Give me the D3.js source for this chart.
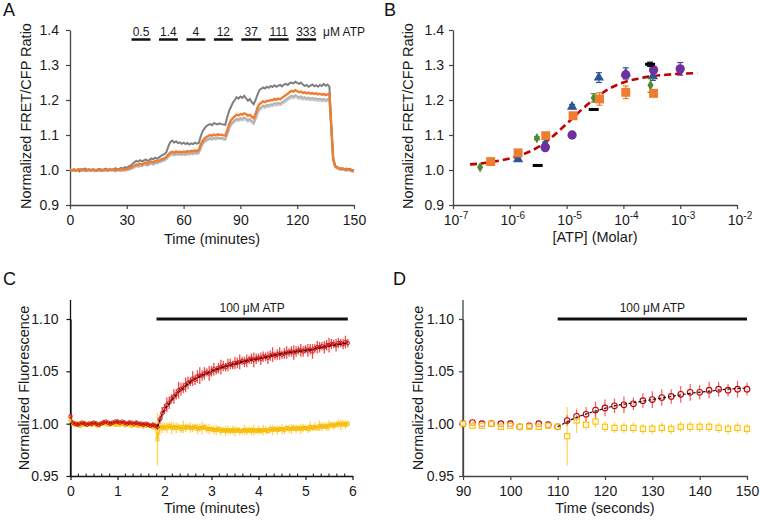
<!DOCTYPE html>
<html><head><meta charset="utf-8">
<script src="https://cdn.jsdelivr.net/npm/d3@7"></script>
<style>
body{margin:0;background:#fff;}
svg{display:block;font-family:"Liberation Sans",Arial,sans-serif;}
</style></head>
<body><svg id="c" width="760" height="521"></svg>
<script>
// ---------- Panel A data (1-minute samples) ----------
const aMinutes = d3.range(0, 151);
const aDark = [1.000,0.998,1.002,0.999,1.001,0.997,1.003,1.000,1.004,0.999,
1.001,0.998,1.002,1.000,0.999,1.003,1.001,0.998,1.002,1.004,
1.000,1.003,0.999,1.002,1.005,1.001,1.003,1.006,1.004,1.008,
1.006,1.010,1.012,1.018,1.022,1.026,1.024,1.028,1.025,1.027,
1.030,1.026,1.029,1.033,1.031,1.035,1.032,1.036,1.040,1.043,
1.046,1.052,1.068,1.080,1.084,1.078,1.082,1.077,1.079,1.075,
1.078,1.074,1.077,1.073,1.076,1.074,1.078,1.075,1.077,1.095,
1.110,1.118,1.125,1.129,1.131,1.128,1.134,1.132,1.130,1.133,
1.131,1.130,1.129,1.150,1.168,1.180,1.192,1.200,1.208,1.204,
1.210,1.206,1.212,1.205,1.198,1.203,1.194,1.188,1.200,1.215,
1.228,1.232,1.236,1.233,1.238,1.235,1.240,1.237,1.242,1.238,
1.241,1.243,1.239,1.244,1.246,1.243,1.248,1.250,1.247,1.252,
1.249,1.246,1.250,1.244,1.240,1.243,1.238,1.241,1.244,1.239,
1.242,1.238,1.243,1.240,1.246,1.241,1.244,1.238,1.130,1.035,
1.012,1.008,1.006,1.003,1.005,1.002,1.004,1.001,1.003,0.999,
1.000];
const aOrange = [1.000,0.999,1.001,0.998,1.000,1.002,0.999,1.001,0.998,1.000,
1.002,0.999,1.000,1.001,0.998,1.000,1.002,0.999,1.001,1.000,
0.999,1.001,1.000,1.002,0.999,1.001,1.000,1.003,1.001,1.002,
1.003,1.005,1.007,1.010,1.013,1.016,1.015,1.018,1.016,1.019,
1.021,1.018,1.022,1.024,1.022,1.026,1.025,1.027,1.030,1.032,
1.034,1.038,1.045,1.050,1.052,1.049,1.053,1.051,1.052,1.050,
1.053,1.051,1.054,1.052,1.055,1.053,1.056,1.054,1.057,1.072,
1.083,1.090,1.094,1.097,1.100,1.098,1.101,1.099,1.102,1.100,
1.101,1.099,1.098,1.112,1.130,1.142,1.148,1.153,1.158,1.156,
1.160,1.158,1.162,1.160,1.155,1.158,1.152,1.148,1.160,1.178,
1.188,1.192,1.196,1.194,1.198,1.197,1.200,1.199,1.203,1.201,
1.204,1.202,1.206,1.210,1.214,1.218,1.222,1.226,1.224,1.228,
1.225,1.222,1.224,1.220,1.222,1.219,1.221,1.218,1.220,1.217,
1.219,1.216,1.218,1.215,1.217,1.214,1.216,1.218,1.125,1.032,
1.012,1.008,1.005,1.003,1.004,1.002,1.001,1.003,1.000,0.998,
0.997];
const aGray1 = [0.998,1.000,0.997,1.001,0.999,0.996,1.000,0.998,1.001,0.997,
0.999,1.001,0.998,0.996,1.000,0.999,0.997,1.001,0.998,0.999,
0.997,0.999,1.001,0.998,0.996,0.999,1.000,0.997,0.999,0.998,
0.999,1.001,1.003,1.006,1.009,1.012,1.010,1.013,1.012,1.015,
1.016,1.014,1.018,1.019,1.017,1.021,1.020,1.023,1.025,1.027,
1.029,1.033,1.040,1.044,1.046,1.043,1.047,1.045,1.046,1.044,
1.047,1.045,1.048,1.046,1.049,1.047,1.050,1.048,1.050,1.064,
1.076,1.082,1.086,1.089,1.091,1.089,1.092,1.090,1.093,1.091,
1.092,1.090,1.089,1.103,1.120,1.131,1.137,1.142,1.146,1.144,
1.148,1.146,1.150,1.147,1.143,1.146,1.140,1.136,1.148,1.166,
1.176,1.180,1.184,1.182,1.186,1.185,1.188,1.187,1.191,1.189,
1.192,1.190,1.194,1.197,1.201,1.205,1.209,1.212,1.210,1.214,
1.211,1.208,1.210,1.206,1.208,1.205,1.207,1.204,1.206,1.203,
1.205,1.202,1.204,1.201,1.203,1.200,1.202,1.205,1.120,1.030,
1.010,1.006,1.004,1.001,1.002,1.000,0.999,1.001,0.998,0.997,
0.996];
const aGray2 = [1.002,0.999,1.001,0.998,1.003,1.000,0.998,1.002,0.999,1.001,
0.998,1.000,1.003,0.999,1.001,0.998,1.000,1.002,0.999,1.001,
1.000,0.998,1.002,1.000,0.999,1.002,0.998,1.000,1.003,1.000,
1.002,1.000,1.002,1.004,1.007,1.010,1.009,1.011,1.010,1.013,
1.014,1.012,1.016,1.017,1.015,1.019,1.018,1.021,1.023,1.025,
1.027,1.031,1.037,1.041,1.044,1.041,1.044,1.042,1.044,1.042,
1.044,1.042,1.045,1.043,1.046,1.044,1.047,1.045,1.047,1.060,
1.072,1.079,1.083,1.086,1.088,1.086,1.089,1.087,1.090,1.088,
1.089,1.087,1.086,1.099,1.116,1.127,1.133,1.138,1.142,1.140,
1.144,1.141,1.145,1.142,1.138,1.141,1.135,1.131,1.143,1.160,
1.170,1.175,1.179,1.177,1.181,1.180,1.183,1.182,1.186,1.184,
1.187,1.185,1.189,1.192,1.196,1.200,1.204,1.207,1.205,1.209,
1.206,1.203,1.205,1.201,1.203,1.200,1.202,1.199,1.201,1.198,
1.200,1.197,1.199,1.196,1.198,1.195,1.197,1.200,1.115,1.028,
1.008,1.004,1.002,1.000,1.001,0.999,0.998,1.000,0.997,0.996,
0.995];
const aDoseLabels = ["0.5","1.4","4","12","37","111","333"];
const aDoseStart = [32.5, 47, 61.5, 76, 90.5, 105, 119.5];
const aDoseEnd   = [42.5, 57, 71.5, 86, 101, 115.5, 130];
const aXTicks = [0,30,60,90,120,150];
const abYTicks = [0.9,1.0,1.1,1.2,1.3,1.4];

// ---------- Panel B data ----------
const bXTicks = [1e-7,1e-6,1e-5,1e-4,1e-3,1e-2];
const bXExp = ["-7","-6","-5","-4","-3","-2"];
const bGreenConc = [3.0e-7, 3.0e-6, 3.0e-5, 3.0e-4];
const bGreenVal  = [1.008, 1.091, 1.206, 1.242];
const bGreenErr  = [0, 0.004, 0.012, 0.020];
const bOrangeConc = [4.6e-7, 1.4e-6, 4.3e-6, 1.3e-5, 3.8e-5, 1.1e-4, 3.4e-4];
const bOrangeVal  = [1.024, 1.049, 1.098, 1.155, 1.203, 1.222, 1.219];
const bOrangeErr  = [0, 0.005, 0.006, 0.008, 0.018, 0.018, 0.006];
const bBlueConc = [1.4e-6, 4.2e-6, 1.25e-5, 3.7e-5, 1.1e-4, 3.3e-4];
const bBlueVal  = [1.031, 1.074, 1.181, 1.264, 1.276, 1.268];
const bBlueErr  = [0.003, 0.006, 0.006, 0.014, 0.016, 0.012];
const bPurpleConc = [4.2e-6, 1.25e-5, 1.1e-4, 3.4e-4, 1.0e-3];
const bPurpleVal  = [1.064, 1.100, 1.272, 1.286, 1.289];
const bPurpleErr  = [0.004, 0, 0.008, 0.008, 0.018];
const bBlackConc = [3.1e-6, 3.0e-5, 2.95e-4];
const bBlackVal  = [1.013, 1.173, 1.302];
const bBlackErr  = [0, 0, 0.006];
const bFitConc = [2e-7,3.2e-7,5.6e-7,1e-6,1.8e-6,3.2e-6,5.6e-6,1e-5,1.8e-5,3.2e-5,5.6e-5,1e-4,1.8e-4,3.2e-4,5.6e-4,1e-3,2e-3];
const bFitVal  = [1.016,1.019,1.025,1.033,1.046,1.066,1.095,1.132,1.171,1.205,1.232,1.250,1.261,1.268,1.272,1.275,1.277];

// ---------- Panel C data (3-second samples, minutes) ----------
const cTimes = d3.range(0, 119).map(i => i * 0.05);
const cRed = [1.007,1.001,1.000,0.999,1.000,1.001,1.000,0.999,1.000,1.000,
1.001,1.000,0.999,1.000,1.001,1.002,1.001,1.000,1.001,1.002,
1.002,1.001,1.002,1.001,1.000,1.001,1.001,1.000,1.001,1.000,
1.000,0.999,1.000,0.999,0.998,0.999,0.998,0.997,1.004,1.010,
1.014,1.018,1.020,1.024,1.026,1.028,1.032,1.033,1.034,1.037,
1.039,1.040,1.043,1.042,1.045,1.046,1.046,1.048,1.049,1.048,
1.050,1.052,1.051,1.053,1.054,1.055,1.054,1.056,1.057,1.056,
1.058,1.058,1.059,1.060,1.059,1.060,1.061,1.062,1.061,1.062,
1.063,1.062,1.064,1.064,1.063,1.065,1.066,1.065,1.066,1.067,
1.066,1.067,1.068,1.068,1.069,1.068,1.069,1.070,1.070,1.069,
1.071,1.070,1.071,1.069,1.072,1.073,1.073,1.074,1.073,1.075,
1.075,1.076,1.076,1.075,1.077,1.077,1.076,1.078,1.077];
const cRedErr = [0.002,0.001,0.001,0.002,0.001,0.001,0.002,0.001,0.001,0.002,
0.001,0.002,0.001,0.001,0.002,0.001,0.001,0.002,0.001,0.001,
0.002,0.001,0.001,0.002,0.001,0.002,0.001,0.001,0.002,0.001,
0.001,0.002,0.001,0.002,0.001,0.002,0.002,0.003,0.004,0.006,
0.005,0.007,0.006,0.004,0.007,0.005,0.008,0.006,0.005,0.007,
0.006,0.004,0.007,0.005,0.006,0.008,0.005,0.006,0.004,0.007,
0.005,0.006,0.004,0.005,0.007,0.005,0.004,0.006,0.005,0.004,
0.006,0.005,0.007,0.004,0.005,0.006,0.004,0.005,0.007,0.005,
0.004,0.006,0.005,0.004,0.006,0.005,0.007,0.004,0.005,0.006,
0.004,0.005,0.006,0.004,0.005,0.007,0.005,0.004,0.006,0.005,
0.004,0.006,0.005,0.007,0.004,0.006,0.005,0.004,0.006,0.005,
0.007,0.005,0.004,0.006,0.005,0.004,0.005,0.006,0.004];
const cYel = [1.004,1.000,0.999,1.000,0.998,0.999,1.000,0.999,1.000,0.999,
1.000,0.999,0.998,1.000,1.001,1.000,0.999,1.000,1.000,0.999,
1.000,0.999,1.000,0.999,0.999,1.000,0.998,0.999,0.999,0.998,
0.999,0.998,0.998,0.999,0.998,0.997,0.998,0.985,0.997,0.996,
0.997,0.996,0.998,0.996,0.997,0.996,0.997,0.995,0.997,0.996,
0.997,0.996,0.996,0.997,0.995,0.996,0.996,0.997,0.995,0.995,
0.995,0.994,0.994,0.995,0.993,0.994,0.993,0.994,0.993,0.994,
0.993,0.994,0.993,0.993,0.994,0.993,0.994,0.993,0.994,0.993,
0.994,0.993,0.994,0.994,0.993,0.995,0.994,0.995,0.994,0.995,
0.995,0.994,0.996,0.995,0.995,0.996,0.995,0.996,0.995,0.996,
0.996,0.995,0.997,0.996,0.997,0.996,0.998,0.997,0.998,0.997,
0.998,0.999,0.998,0.999,1.000,0.999,1.000,0.999,1.000];
const cYelErr = [0.003,0.002,0.002,0.003,0.002,0.002,0.003,0.002,0.002,0.003,
0.002,0.003,0.002,0.002,0.003,0.002,0.002,0.003,0.002,0.002,
0.003,0.002,0.002,0.003,0.002,0.003,0.002,0.002,0.003,0.002,
0.002,0.003,0.002,0.003,0.002,0.003,0.004,0.025,0.008,0.005,
0.004,0.005,0.003,0.006,0.004,0.005,0.003,0.004,0.006,0.004,
0.003,0.005,0.004,0.003,0.005,0.004,0.006,0.003,0.004,0.005,
0.003,0.004,0.005,0.003,0.004,0.003,0.005,0.004,0.003,0.004,
0.005,0.003,0.004,0.003,0.005,0.004,0.003,0.004,0.005,0.003,
0.004,0.003,0.005,0.004,0.003,0.004,0.005,0.003,0.004,0.003,
0.005,0.004,0.003,0.004,0.005,0.003,0.004,0.003,0.005,0.004,
0.003,0.004,0.005,0.003,0.004,0.003,0.005,0.004,0.003,0.004,
0.005,0.003,0.004,0.003,0.004,0.005,0.003,0.004,0.003];
const cFitT = [1.85,1.9,1.95,2.0,2.1,2.2,2.3,2.4,2.5,2.75,3.0,3.25,3.5,3.75,4.0,4.5,5.0,5.5,5.9];
const cFitV = [0.997,1.003,1.009,1.013,1.019,1.025,1.030,1.034,1.038,1.045,1.050,1.054,1.057,1.060,1.062,1.067,1.070,1.074,1.077];
const cXTicks = [0,1,2,3,4,5,6];
const cdYTicks = [0.95,1.00,1.05,1.10];
const cAtp = [1.83, 5.9];

// ---------- Panel D data (seconds) ----------
const dTimes = [90,92,94,96,98,100,102,104,106,108,110,112,114,116,118,120,122,124,126,128,130,132,134,136,138,140,142,144,146,148,150];
const dRed = [1.000,1.001,1.000,1.000,1.000,1.000,0.997,0.998,1.000,0.999,0.997,1.003,1.007,1.009,1.013,1.015,1.017,1.018,1.019,1.022,1.023,1.025,1.026,1.028,1.030,1.030,1.032,1.033,1.032,1.033,1.033];
const dRedErr = [0.001,0.001,0.001,0.001,0.001,0.001,0.001,0.001,0.001,0.001,0.001,0.005,0.006,0.007,0.008,0.008,0.007,0.008,0.006,0.007,0.008,0.008,0.007,0.008,0.008,0.007,0.008,0.007,0.006,0.008,0.006];
const dYel = [1.000,0.998,0.998,1.000,0.997,0.998,0.997,0.997,0.997,0.998,0.997,0.988,1.003,0.999,1.002,0.997,0.996,0.996,0.996,0.995,0.995,0.996,0.995,0.997,0.997,0.997,0.997,0.996,0.995,0.996,0.995];
const dYelErr = [0.001,0.002,0.002,0.001,0.002,0.001,0.002,0.002,0.002,0.001,0.002,0.028,0.012,0.005,0.006,0.005,0.005,0.005,0.005,0.005,0.005,0.005,0.005,0.005,0.005,0.005,0.005,0.005,0.005,0.005,0.005];
const dFitT = [110,114,118,122,126,130,134,138,142,146,150];
const dFitV = [0.997,1.006,1.012,1.017,1.020,1.023,1.026,1.029,1.031,1.033,1.034];
const dXTicks = [90,100,110,120,130,140,150];
const dAtp = [110, 150];

// ---------- drawing ----------
const svg = d3.select("#c");
const FONT = 14, TFONT = 14.5;

function styleAxis(g, col){
  g.selectAll("path.domain").attr("stroke", col).attr("stroke-width", 1.3);
  g.selectAll(".tick line").attr("stroke", col).attr("stroke-width", 1.2);
  g.selectAll(".tick text").attr("fill", "#1a1a1a").style("font-size", FONT + "px").style("font-family", '"Liberation Sans",Arial,sans-serif');
}
function letter(t, x, y){ svg.append("text").attr("x", x).attr("y", y).style("font-size","18px").attr("fill","#111").text(t); }
function yTitle(t, x, cy){ svg.append("text").attr("transform", `translate(${x},${cy}) rotate(-90)`).attr("text-anchor","middle").style("font-size", TFONT+"px").attr("fill","#1a1a1a").text(t); }
function xTitle(t, cx, y){ svg.append("text").attr("x", cx).attr("y", y).attr("text-anchor","middle").style("font-size", TFONT+"px").attr("fill","#1a1a1a").text(t); }

// ===== Panel A =====
{
  const x = d3.scaleLinear().domain([0,150]).range([70,354]);
  const y = d3.scaleLinear().domain([0.9,1.4]).range([205,30]);
  const gx = svg.append("g").attr("transform","translate(0,205)").call(d3.axisBottom(x).tickValues(aXTicks).tickSize(4).tickSizeOuter(0).tickPadding(6));
  const gy = svg.append("g").attr("transform","translate(70,0)").call(d3.axisLeft(y).tickValues(abYTicks).tickFormat(d3.format(".1f")).tickSize(4).tickSizeOuter(0).tickPadding(7));
  styleAxis(gx, "#444"); styleAxis(gy, "#444");
  const line = d3.line().x((d,i)=>x(aMinutes[i])).y(d=>y(d));
  svg.append("path").datum(aGray2).attr("d", line).attr("fill","none").attr("stroke","#cbcbcb").attr("stroke-width",2);
  svg.append("path").datum(aGray1).attr("d", line).attr("fill","none").attr("stroke","#b3b3b3").attr("stroke-width",2);
  svg.append("path").datum(aDark).attr("d", line).attr("fill","none").attr("stroke","#7f7f7f").attr("stroke-width",2);
  svg.append("path").datum(aOrange).attr("d", line).attr("fill","none").attr("stroke","#ed7d31").attr("stroke-width",2.4);
  aDoseLabels.forEach((lab,i)=>{
    svg.append("line").attr("x1", x(aDoseStart[i])).attr("x2", x(aDoseEnd[i])).attr("y1", 39.5).attr("y2", 39.5).attr("stroke","#111").attr("stroke-width",2.5);
    svg.append("text").attr("x", (x(aDoseStart[i])+x(aDoseEnd[i]))/2).attr("y", 36).attr("text-anchor","middle").style("font-size","12px").attr("fill","#1a1a1a").text(lab);
  });
  svg.append("text").attr("x", 323).attr("y", 36).style("font-size","12px").attr("fill","#1a1a1a").text("μM ATP");
  letter("A", 3, 16);
  yTitle("Normalized FRET/CFP Ratio", 31, 116);
  xTitle("Time (minutes)", 212, 244);
}

// ===== Panel B =====
{
  const x = d3.scaleLog().domain([1e-7,1e-2]).range([453,737]);
  const y = d3.scaleLinear().domain([0.9,1.4]).range([205,30]);
  const gx = svg.append("g").attr("transform","translate(0,205)").call(d3.axisBottom(x).tickValues(bXTicks).tickFormat(()=>"").tickSize(4).tickSizeOuter(0));
  const gy = svg.append("g").attr("transform","translate(453,0)").call(d3.axisLeft(y).tickValues(abYTicks).tickFormat(d3.format(".1f")).tickSize(4).tickSizeOuter(0).tickPadding(5));
  styleAxis(gx, "#444"); styleAxis(gy, "#444");
  bXTicks.forEach((v,i)=>{
    const t = svg.append("text").attr("x", x(v)+3).attr("y", 225).attr("text-anchor","middle").style("font-size", FONT+"px").attr("fill","#1a1a1a");
    t.append("tspan").text("10");
    t.append("tspan").attr("dy",-6).style("font-size","10px").text(bXExp[i]);
  });
  svg.append("path").datum(bFitVal).attr("d", d3.line().curve(d3.curveMonotoneX).x((d,i)=>x(bFitConc[i])).y(d=>y(d)))
    .attr("fill","none").attr("stroke","#c00000").attr("stroke-width",2.6).attr("stroke-dasharray","7,4");
  function series(conc, val, err, col, sym, size){
    conc.forEach((c,i)=>{
      if (err[i] > 0){
        const cx = x(c);
        svg.append("line").attr("x1",cx).attr("x2",cx).attr("y1",y(val[i]-err[i])).attr("y2",y(val[i]+err[i])).attr("stroke",col).attr("stroke-width",1.2);
        [val[i]-err[i], val[i]+err[i]].forEach(v=>svg.append("line").attr("x1",cx-3).attr("x2",cx+3).attr("y1",y(v)).attr("y2",y(v)).attr("stroke",col).attr("stroke-width",1.2));
      }
      if (sym === "dash"){
        svg.append("rect").attr("x", x(c)-5).attr("y", y(val[i])-1.5).attr("width",10).attr("height",3).attr("fill",col);
      } else {
        svg.append("path").attr("d", d3.symbol().type(sym).size(size)()).attr("transform",`translate(${x(c)},${y(val[i])})`).attr("fill",col);
      }
    });
  }
  series(bBlueConc, bBlueVal, bBlueErr, "#2f5597", d3.symbolTriangle, 46);
  series(bGreenConc, bGreenVal, bGreenErr, "#4f8a34", d3.symbolDiamond, 32);
  series(bOrangeConc, bOrangeVal, bOrangeErr, "#ed7d31", d3.symbolSquare, 80);
  series(bPurpleConc, bPurpleVal, bPurpleErr, "#7030a0", d3.symbolCircle, 68);
  series(bBlackConc, bBlackVal, bBlackErr, "#000000", "dash", 0);
  letter("B", 384, 16);
  yTitle("Normalized FRET/CFP Ratio", 413, 116);
  xTitle("[ATP] (Molar)", 595, 242);
}

// ===== Panel C =====
{
  const x = d3.scaleLinear().domain([0,6]).range([70.5,352.5]);
  const y = d3.scaleLinear().domain([0.95,1.10]).range([476,319]);
  svg.append("line").attr("x1",70.5).attr("x2",70.5).attr("y1",300).attr("y2",476).attr("stroke","#111").attr("stroke-width",1.3);
  const gx = svg.append("g").attr("transform","translate(0,476)").call(d3.axisBottom(x).tickValues(cXTicks).tickFormat(d3.format("d")).tickSize(4).tickSizeOuter(0).tickPadding(6));
  const gy = svg.append("g").attr("transform","translate(70.5,0)").call(d3.axisLeft(y).tickValues(cdYTicks).tickFormat(d3.format(".2f")).tickSize(4).tickSizeOuter(0).tickPadding(8));
  styleAxis(gx, "#111"); styleAxis(gy, "#111");
  const minor = d3.range(0, 37).map(i => i/6).filter(v => Math.abs(v - Math.round(v)) > 1e-6);
  svg.append("g").selectAll("line").data(minor).join("line").attr("x1",d=>x(d)).attr("x2",d=>x(d)).attr("y1",473.5).attr("y2",476).attr("stroke","#111").attr("stroke-width",1);
  // yellow series
  svg.append("g").selectAll("line").data(cYel).join("line").attr("x1",(d,i)=>x(cTimes[i])).attr("x2",(d,i)=>x(cTimes[i]))
    .attr("y1",(d,i)=>y(d-cYelErr[i])).attr("y2",(d,i)=>y(d+cYelErr[i])).attr("stroke","#ffd24d").attr("stroke-width",1.3);
  svg.append("path").datum(cYel).attr("d", d3.line().x((d,i)=>x(cTimes[i])).y(d=>y(d))).attr("fill","none").attr("stroke","#ffc000").attr("stroke-width",1.2);
  svg.append("g").selectAll("rect").data(cYel).join("rect").attr("x",(d,i)=>x(cTimes[i])-1.5).attr("y",d=>y(d)-1.5).attr("width",3).attr("height",3).attr("fill","none").attr("stroke","#f5b800").attr("stroke-width",0.8);
  // red series
  svg.append("g").selectAll("line").data(cRed).join("line").attr("x1",(d,i)=>x(cTimes[i])).attr("x2",(d,i)=>x(cTimes[i]))
    .attr("y1",(d,i)=>y(d-cRedErr[i])).attr("y2",(d,i)=>y(d+cRedErr[i])).attr("stroke","#f24c4c").attr("stroke-width",1.3);
  svg.append("path").datum(cRed).attr("d", d3.line().x((d,i)=>x(cTimes[i])).y(d=>y(d))).attr("fill","none").attr("stroke","#d01010").attr("stroke-width",0.8);
  svg.append("g").selectAll("circle").data(cRed).join("circle").attr("cx",(d,i)=>x(cTimes[i])).attr("cy",d=>y(d)).attr("r",1.8).attr("fill","none").attr("stroke","#c00000").attr("stroke-width",0.8);
  svg.append("path").datum(cFitV).attr("d", d3.line().curve(d3.curveMonotoneX).x((d,i)=>x(cFitT[i])).y(d=>y(d))).attr("fill","none").attr("stroke","#111").attr("stroke-width",1.1).attr("stroke-dasharray","3,2");
  svg.append("line").attr("x1",x(cAtp[0])).attr("x2",x(cAtp[1])).attr("y1",319).attr("y2",319).attr("stroke","#111").attr("stroke-width",3);
  svg.append("text").attr("x",(x(cAtp[0])+x(cAtp[1]))/2).attr("y",312).attr("text-anchor","middle").style("font-size","12px").attr("fill","#1a1a1a").text("100 μM ATP");
  letter("C", 3, 285);
  yTitle("Normalized Fluorescence", 29, 388);
  xTitle("Time (minutes)", 212, 513);
}

// ===== Panel D =====
{
  const x = d3.scaleLinear().domain([90,150]).range([463,747]);
  const y = d3.scaleLinear().domain([0.95,1.10]).range([476,319]);
  svg.append("line").attr("x1",463).attr("x2",463).attr("y1",300).attr("y2",476).attr("stroke","#444").attr("stroke-width",1.3);
  const gx = svg.append("g").attr("transform","translate(0,476)").call(d3.axisBottom(x).tickValues(dXTicks).tickSize(4).tickSizeOuter(0).tickPadding(6));
  const gy = svg.append("g").attr("transform","translate(463,0)").call(d3.axisLeft(y).tickValues(cdYTicks).tickFormat(d3.format(".2f")).tickSize(4).tickSizeOuter(0).tickPadding(5));
  styleAxis(gx, "#444"); styleAxis(gy, "#444");
  svg.append("g").selectAll("line").data(dYel).join("line").attr("x1",(d,i)=>x(dTimes[i])).attr("x2",(d,i)=>x(dTimes[i]))
    .attr("y1",(d,i)=>y(d-dYelErr[i])).attr("y2",(d,i)=>y(d+dYelErr[i])).attr("stroke","#ffd24d").attr("stroke-width",1.2);
  svg.append("g").selectAll("line").data(dRed).join("line").attr("x1",(d,i)=>x(dTimes[i])).attr("x2",(d,i)=>x(dTimes[i]))
    .attr("y1",(d,i)=>y(d-dRedErr[i])).attr("y2",(d,i)=>y(d+dRedErr[i])).attr("stroke","#f25c5c").attr("stroke-width",1.2);
  svg.append("g").selectAll("circle").data(dRed).join("circle").attr("cx",(d,i)=>x(dTimes[i])).attr("cy",d=>y(d)).attr("r",2.8).attr("fill","#fff").attr("fill-opacity",0.6).attr("stroke","#c00000").attr("stroke-width",1.1);
  svg.append("g").selectAll("rect").data(dYel).join("rect").attr("x",(d,i)=>x(dTimes[i])-2.6).attr("y",d=>y(d)-2.6).attr("width",5.2).attr("height",5.2).attr("fill","#fff").attr("fill-opacity",0.6).attr("stroke","#ffc000").attr("stroke-width",1.1);
  svg.append("path").datum(dFitV).attr("d", d3.line().curve(d3.curveMonotoneX).x((d,i)=>x(dFitT[i])).y(d=>y(d))).attr("fill","none").attr("stroke","#111").attr("stroke-width",1.2).attr("stroke-dasharray","3,2");
  svg.append("line").attr("x1",x(dAtp[0])).attr("x2",x(dAtp[1])).attr("y1",319).attr("y2",319).attr("stroke","#111").attr("stroke-width",3);
  svg.append("text").attr("x",(x(dAtp[0])+x(dAtp[1]))/2).attr("y",312).attr("text-anchor","middle").style("font-size","12px").attr("fill","#1a1a1a").text("100 μM ATP");
  letter("D", 393, 285);
  yTitle("Normalized Fluorescence", 423, 388);
  xTitle("Time (seconds)", 605, 513);
}
</script></body></html>
